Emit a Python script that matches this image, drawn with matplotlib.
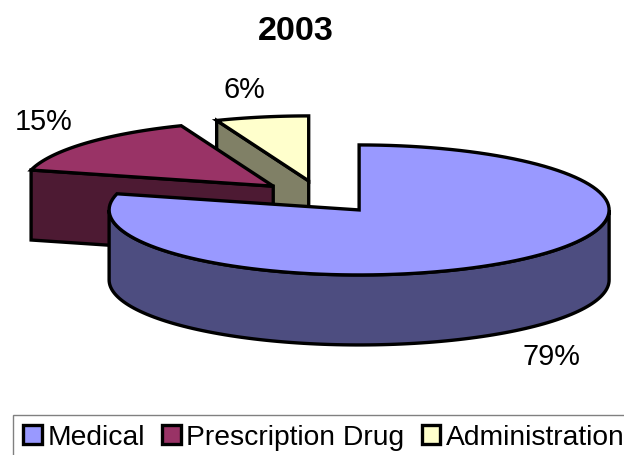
import numpy as np
import matplotlib
matplotlib.use('Agg')
import matplotlib.pyplot as plt
from matplotlib.patches import Patch, Polygon

plt.rcParams['font.family'] = ['Liberation Sans', 'DejaVu Sans']

TITLE = '2003'
categories = ['Medical', 'Prescription Drug', 'Administration']
shares = [79, 15, 6]
top_colors = ['#9999FF', '#993366', '#FFFFCC']
side_colors = ['#4D4D80', '#4D1A33', '#808066']

# pie geometry, in pixels of the 624x455 picture
CX, CY = 320.5, 197
RX, RY = 250, 65
DEPTH = 70
EXPLODE = 63
label_pos = [(551, 357), (44, 122), (244, 90)]

LW = 2.4

fig = plt.figure(figsize=(6.24, 4.55), dpi=100)
ax = fig.add_axes([0, 0, 1, 1])
ax.set_xlim(0, 624)
ax.set_ylim(455, 0)
ax.axis('off')


def arc(x0, y0, a0, a1, n=120):
    # angles clockwise from 12 o'clock, in degrees
    t = np.radians(np.linspace(a0, a1, n))
    return np.column_stack([x0 + RX * np.sin(t), y0 - RY * np.cos(t)])


def poly(pts, color, z):
    ax.add_patch(Polygon(pts, closed=True, facecolor=color, edgecolor='black',
                         linewidth=LW, joinstyle='miter', zorder=z))


edges = np.cumsum([0] + shares) / sum(shares) * 360
down = np.array([0, DEPTH])

# back slices first, the big front slice last
for i in [2, 1, 0]:
    a0, a1 = edges[i], edges[i + 1]
    mid = np.radians((a0 + a1) / 2)
    x0 = CX + EXPLODE * np.sin(mid)
    y0 = CY - EXPLODE * RY / RX * np.cos(mid)
    apex = np.array([x0, y0])
    z = 3 - i if i else 5
    rim = arc(x0, y0, a0, a1)

    if i == 0:
        # curved front wall
        front = arc(x0, y0, 90, 270)
        poly(np.vstack([front, front[::-1] + down]), side_colors[i], z)
    else:
        # cut face running from the left rim point to the apex
        cut = np.array([rim[0], apex])
        poly(np.vstack([cut, cut[::-1] + down]), side_colors[i], z)
    poly(np.vstack([apex, rim]), top_colors[i], z + 0.5)

for share, (lx, ly) in zip(shares, label_pos):
    ax.text(lx, ly, f'{share}%', ha='center', va='center', fontsize=20.8, color='black', zorder=10)

ax.text(296, 32, TITLE, ha='center', va='center', fontsize=24.6, fontweight='bold', color='black')

handles = [Patch(facecolor=c, edgecolor='black', linewidth=LW) for c in top_colors]
leg = ax.legend(handles, categories, loc='lower left', bbox_to_anchor=(13, 461),
                bbox_transform=ax.transData, ncol=3, fontsize=20.3, frameon=True,
                fancybox=False, edgecolor='#808080', framealpha=1, borderaxespad=0,
                borderpad=0.36, handlelength=0.66, handleheight=0.66, handletextpad=0.2,
                columnspacing=0.61, labelspacing=0)
leg.get_frame().set_linewidth(1.0)
leg.set_zorder(20)

fig.savefig('out.png', dpi=100, facecolor='white')
